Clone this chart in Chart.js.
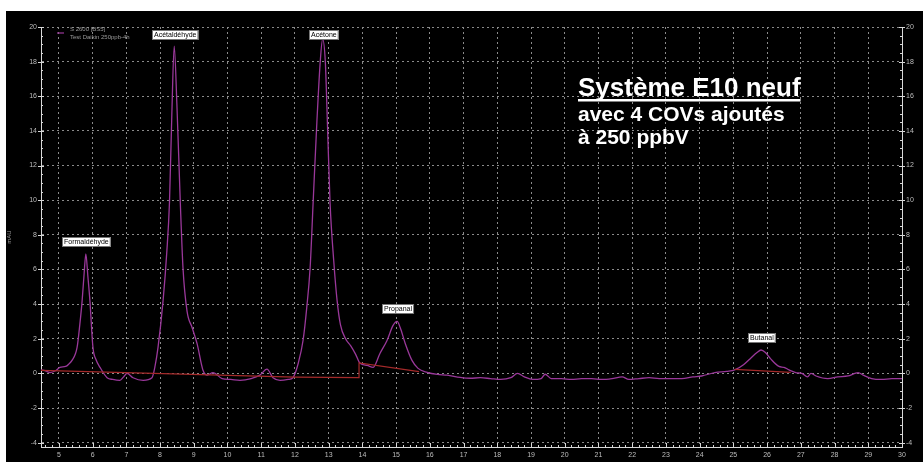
<!DOCTYPE html>
<html><head><meta charset="utf-8">
<script src="https://cdn.jsdelivr.net/npm/chart.js@4/dist/chart.umd.min.js"></script>
<style>html,body{margin:0;padding:0;background:#fff;overflow:hidden}#wrap{width:923px;height:462px;position:relative}</style>
</head><body><div id="wrap"><canvas id="c" width="923" height="462"></canvas></div>
<script>
// ---- data (retention time in min, signal in mAU) ----
const TIME = [4.47,4.6,4.74,4.9,5.03,5.2,5.3,5.39,5.54,5.62,5.69,5.75,5.8,5.86,5.92,6.01,6.1,6.22,6.43,6.6,6.81,6.92,7.02,7.2,7.5,7.76,7.85,7.94,8.09,8.2,8.28,8.35,8.42,8.5,8.6,8.68,8.8,8.95,9.1,9.27,9.4,9.57,9.84,10.1,10.37,10.7,10.96,11.17,11.35,11.56,11.8,11.94,12.1,12.24,12.35,12.45,12.54,12.65,12.75,12.82,12.9,12.97,13.04,13.15,13.25,13.35,13.5,13.65,13.8,13.93,14.14,14.32,14.52,14.73,14.91,15.03,15.12,15.27,15.47,15.65,15.92,16.22,16.51,16.9,17.2,17.5,17.8,18.1,18.4,18.6,18.8,19.05,19.3,19.42,19.6,19.9,20.2,20.5,20.8,21.1,21.4,21.7,21.9,22.2,22.5,22.8,23.1,23.47,23.8,24.06,24.45,24.8,25.04,25.3,25.5,25.7,25.82,25.95,26.1,26.35,26.5,26.65,26.85,27.03,27.2,27.3,27.45,27.8,28.1,28.4,28.6,28.7,28.85,29.1,29.4,29.7,30.0];
const SIGNAL = [0.2,0.15,0.05,0.15,0.35,0.4,0.55,0.75,1.5,2.8,4.2,5.8,6.9,5.6,4.2,1.5,0.8,0.35,-0.25,-0.35,-0.4,-0.2,0.0,-0.25,-0.4,-0.25,0.4,1.5,4.2,7.0,9.9,15.0,18.9,15.5,9.9,6.1,3.6,2.65,1.7,0.2,-0.1,0.05,-0.3,-0.35,-0.4,-0.3,-0.1,0.25,-0.25,-0.4,-0.35,-0.25,0.6,1.9,3.8,6.1,9.9,14.5,18.0,19.3,18.0,14.0,9.9,6.5,4.2,2.8,2.0,1.6,1.1,0.58,0.46,0.35,1.15,1.9,2.77,3.0,2.65,1.73,0.75,0.29,0.06,-0.06,-0.1,-0.23,-0.28,-0.25,-0.3,-0.35,-0.25,0.0,-0.2,-0.35,-0.3,-0.05,-0.3,-0.3,-0.35,-0.3,-0.3,-0.35,-0.3,-0.2,-0.35,-0.3,-0.25,-0.3,-0.3,-0.3,-0.2,-0.15,0.05,0.12,0.2,0.5,0.85,1.2,1.35,1.2,0.85,0.4,0.35,0.2,0.05,0.0,-0.2,0.0,-0.15,-0.3,-0.2,-0.15,0.0,0.05,-0.1,-0.3,-0.35,-0.3,-0.3];
const BASE1_T = [4.47, 12.0, 13.9, 13.9, 15.68];
const BASE1_Y = [0.17, -0.22, -0.25, 0.6, 0.1];
const BASE2_T = [25.04, 26.7];
const BASE2_Y = [0.23, 0.06];
const PEAK_NAMES = ['Formaldéhyde','Acétaldéhyde','Acétone','Propanal','Butanal'];
const PEAK_TIMES = [5.8, 8.42, 12.82, 15.03, 25.82];
const PEAK_HEIGHTS = [6.9, 18.9, 19.3, 3.0, 1.35];
const X_TICKS = [5,6,7,8,9,10,11,12,13,14,15,16,17,18,19,20,21,22,23,24,25,26,27,28,29,30];
const Y_TICKS = [-4,-2,0,2,4,6,8,10,12,14,16,18,20];
const LEGEND_LINES = ['S 2600 [BS5]','Test Daikin 250ppb-4h'];
const Y_TITLE = 'mAU';
const NOTE_TITLE = 'Système E10 neuf';
const NOTE_LINES = ['avec 4 COVs ajoutés','à 250 ppbV'];

// ---- styles ----
const FONT = "'Liberation Sans', Arial, sans-serif";
const CURVE = '#9a389a';
const BASECOL = '#a52a2a';
const TICKCOL = '#bdbdbd';
const X_MIN = 4.47, X_MAX = 30, Y_MIN = -4.25, Y_MAX = 20;

const pts = (xs, ys) => xs.map((t, i) => ({x: t, y: ys[i]}));

const bgPlugin = {
  id: 'bg',
  beforeDraw(chart) {
    const c = chart.ctx;
    c.save(); c.fillStyle = '#fff'; c.fillRect(0,0,chart.width,chart.height);
    c.fillStyle = '#000'; c.fillRect(6, 11, chart.width - 6, chart.height - 11); c.restore();
  }
};

const decoPlugin = {
  id: 'deco',
  afterDraw(chart) {
    const c = chart.ctx, a = chart.chartArea;
    const xs = chart.scales.x, yl = chart.scales.y;
    c.save();
    c.strokeStyle = '#d8d8d8'; c.lineWidth = 1;
    for (let i = Math.ceil(X_MIN * 5); i <= X_MAX * 5; i++) {
      const px = Math.round(xs.getPixelForValue(i / 5)) + 0.5;
      const len = (i % 5 === 0) ? 4 : 2;
      c.beginPath(); c.moveTo(px, a.bottom); c.lineTo(px, a.bottom - len); c.stroke();
    }
    for (let i = Math.ceil(Y_MIN * 2); i <= Y_MAX * 2; i++) {
      const py = Math.round(yl.getPixelForValue(i / 2)) + 0.5;
      if (i % 4 === 0) {
        c.beginPath(); c.moveTo(a.left - 3, py); c.lineTo(a.left + 3, py); c.stroke();
        c.beginPath(); c.moveTo(a.right - 3, py); c.lineTo(a.right + 3, py); c.stroke();
      } else {
        c.beginPath(); c.moveTo(a.left, py); c.lineTo(a.left + 2, py); c.stroke();
        c.beginPath(); c.moveTo(a.right, py); c.lineTo(a.right - 2, py); c.stroke();
      }
    }
    // legend
    c.strokeStyle = CURVE; c.lineWidth = 1.2;
    c.beginPath(); c.moveTo(a.left + 16, a.top + 6); c.lineTo(a.left + 23, a.top + 6); c.stroke();
    c.fillStyle = '#9a9a9a'; c.font = '6px ' + FONT; c.textBaseline = 'middle'; c.textAlign = 'left';
    LEGEND_LINES.forEach((t, i) => c.fillText(t, a.left + 29, a.top + 2 + i * 8.5));
    // peak labels
    c.font = '7px ' + FONT;
    PEAK_NAMES.forEach((name, i) => {
      const px = xs.getPixelForValue(PEAK_TIMES[i]);
      const py = yl.getPixelForValue(PEAK_HEIGHTS[i]);
      const w = c.measureText(name).width + 4, h = 10;
      let top = py - 7 - h;
      if (top < a.top + 3) top = a.top + 3;
      const left = Math.round(px + 1 - w / 2);
      c.fillStyle = '#fff'; c.fillRect(left, Math.round(top), w, h);
      c.strokeStyle = '#777'; c.lineWidth = 1; c.strokeRect(left + 0.5, Math.round(top) + 0.5, w - 1, h - 1);
      c.fillStyle = '#000'; c.textAlign = 'center'; c.textBaseline = 'middle';
      c.fillText(name, left + w / 2, Math.round(top) + h / 2 + 0.5);
    });
    // note
    c.fillStyle = '#fff'; c.textAlign = 'left'; c.textBaseline = 'alphabetic';
    c.font = 'bold 26px ' + FONT;
    c.fillText(NOTE_TITLE, 578, 96);
    const tw = c.measureText(NOTE_TITLE).width;
    c.fillRect(578, 99, tw, 2.5);
    c.font = 'bold 21px ' + FONT;
    NOTE_LINES.forEach((t, i) => c.fillText(t, 578, 121 + i * 23));
    c.restore();
  }
};

const tickFont = {size: 7, family: FONT};
new Chart(document.getElementById('c'), {
  type: 'line',
  data: {
    datasets: [
      {label: 'base1', data: pts(BASE1_T, BASE1_Y), borderColor: BASECOL, borderWidth: 1.2, pointRadius: 0, tension: 0},
      {label: 'base2', data: pts(BASE2_T, BASE2_Y), borderColor: BASECOL, borderWidth: 1.2, pointRadius: 0, tension: 0},
      {label: LEGEND_LINES[1], data: pts(TIME, SIGNAL), borderColor: CURVE, borderWidth: 1.3, pointRadius: 0, cubicInterpolationMode: 'monotone'}
    ]
  },
  options: {
    responsive: false, animation: false, devicePixelRatio: 1,
    layout: {padding: {left: 6, top: 27, right: 0, bottom: 0}},
    plugins: {legend: {display: false}, tooltip: {enabled: false}},
    scales: {
      x: {
        type: 'linear', position: 'bottom', min: X_MIN, max: X_MAX,
        afterBuildTicks: s => { s.ticks = X_TICKS.map(v => ({value: v})); },
        afterFit: s => { s.height = 15; },
        ticks: {color: TICKCOL, font: tickFont, padding: 4, maxRotation: 0, autoSkip: false},
        grid: {color: '#8a8a8a', drawTicks: false, lineWidth: 1},
        border: {color: '#d8d8d8', width: 1, dash: [2, 3]}
      },
      y: {
        type: 'linear', position: 'left', min: Y_MIN, max: Y_MAX,
        afterBuildTicks: s => { s.ticks = Y_TICKS.map(v => ({value: v})); },
        afterFit: s => { s.width = 35; },
        title: {display: true, text: Y_TITLE, color: '#9a9a9a', font: {size: 6, family: FONT}, padding: 0},
        ticks: {color: TICKCOL, font: tickFont, padding: 4, autoSkip: false},
        grid: {color: '#8a8a8a', drawTicks: false, lineWidth: 1},
        border: {color: '#d8d8d8', width: 1, dash: [2, 3]}
      },
      y2: {
        type: 'linear', position: 'right', min: Y_MIN, max: Y_MAX,
        afterBuildTicks: s => { s.ticks = Y_TICKS.map(v => ({value: v})); },
        afterFit: s => { s.width = 21; },
        ticks: {color: TICKCOL, font: tickFont, padding: 4, autoSkip: false},
        grid: {drawOnChartArea: false, drawTicks: false},
        border: {color: '#d8d8d8', width: 1}
      }
    }
  },
  plugins: [bgPlugin, decoPlugin]
});
</script></body></html>
